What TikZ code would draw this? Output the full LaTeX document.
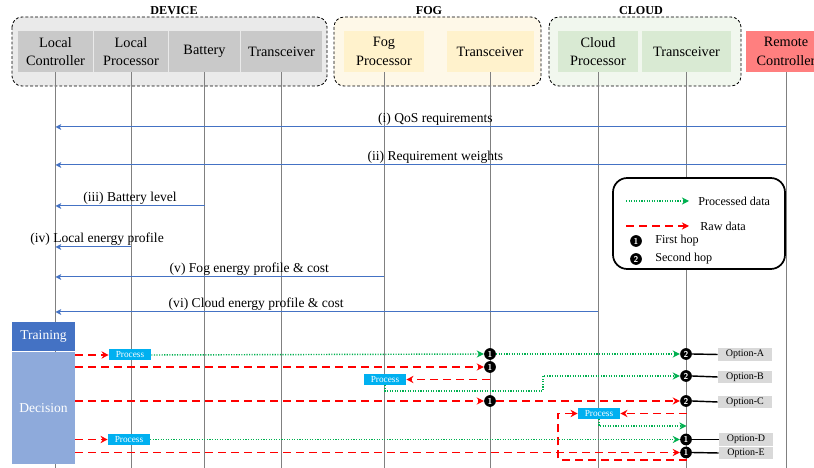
\documentclass[tikz,border=0pt]{standalone}
\usepackage{fontspec}
\setmainfont{Liberation Serif}
\usetikzlibrary{arrows.meta}
\definecolor{devfill}{HTML}{EAEAEA}
\definecolor{devbox}{HTML}{C9C9C9}
\definecolor{fogfill}{HTML}{FEF8E8}
\definecolor{fogbox}{HTML}{FFF2CC}
\definecolor{cldfill}{HTML}{F1F7EE}
\definecolor{cldbox}{HTML}{D9EAD3}
\definecolor{remfill}{HTML}{FF7F7F}
\definecolor{msgblue}{HTML}{4472C4}
\definecolor{trainfill}{HTML}{4472C4}
\definecolor{decfill}{HTML}{8EAADB}
\definecolor{procfill}{HTML}{00B0F0}
\definecolor{optfill}{HTML}{D9D9D9}
\definecolor{procgreen}{HTML}{00B050}
\begin{document}
\begin{tikzpicture}[x=0.7pt, y=-0.7pt]
\tikzstyle{group}   = [draw=black, dash pattern=on 2pt off 1.4pt, line width=0.6pt, rounded corners=7pt]
\tikzstyle{title}   = [inner sep=0pt, font=\fontsize{8.5}{10}\selectfont\bfseries]
\tikzstyle{entity}  = [rectangle, text centered, align=center, minimum height=28.7pt, inner sep=0pt, font=\fontsize{10}{13}\selectfont]
\tikzstyle{life}    = [draw=gray, line width=0.6pt]
\tikzstyle{msg}     = [-{Stealth[length=4pt, width=4pt, inset=1pt]}, draw=msgblue, line width=0.7pt]
\tikzstyle{msgtxt}  = [above=1pt, inner sep=0pt, font=\fontsize{9.5}{11}\selectfont]
\tikzstyle{raw}     = [-{Stealth[length=5pt, width=5pt, inset=1.6pt]}, draw=red, line width=1.3pt, dash pattern=on 5.6pt off 3.5pt]
\tikzstyle{proc}    = [-{Stealth[length=5pt, width=5pt, inset=1.6pt]}, draw=procgreen, line width=1pt, dash pattern=on 0.8pt off 1pt]
\tikzstyle{procbox} = [rectangle, fill=procfill, text=white, minimum width=29.4pt, minimum height=7.7pt, inner sep=0pt, font=\fontsize{6.5}{7}\selectfont]
\tikzstyle{hop}     = [circle, fill=black, text=white, minimum size=8.2pt, inner sep=0pt, font=\fontsize{6}{6}\selectfont\bfseries\sffamily]
\tikzstyle{optbox}  = [rectangle, fill=optfill, minimum width=37.8pt, minimum height=9pt, inner sep=0pt, font=\fontsize{7}{8}\selectfont]
\tikzstyle{optline} = [draw=black, line width=1pt]
\tikzstyle{phase}   = [rectangle, text=white, minimum width=44.1pt, inner sep=0pt, font=\fontsize{9.5}{11}\selectfont]
\tikzstyle{legtxt}  = [anchor=west, inner sep=0pt, font=\fontsize{8.5}{10}\selectfont]
\useasboundingbox (0,0) rectangle (814,468);
\clip (0,0) rectangle (814,468);
% groups and entities
\draw[group, fill=devfill] (12,17) rectangle (327,86);
\draw[group, fill=fogfill] (334,17) rectangle (541,86);
\draw[group, fill=cldfill] (549,17) rectangle (741,86);
\node[title] at (174,11) (dev_t) {DEVICE};
\node[title] at (429,11) (fog_t) {FOG};
\node[title] at (641,11) (cld_t) {CLOUD};
\node[entity, fill=devbox, minimum width=52.5pt] at (55.5,51.5) (dev_b_0) {Local\\Controller};
\node[entity, fill=devbox, minimum width=51.8pt] at (131,51.5) (dev_b_1) {Local\\Processor};
\node[entity, fill=devbox, minimum width=49.7pt] at (204.5,51.5) (dev_b_2) {Battery};
\node[entity, fill=devbox, minimum width=56.7pt] at (281.5,51.5) (dev_b_3) {Transceiver};
\node[entity, fill=fogbox, minimum width=56pt] at (384,51.5) (fog_b_0) {Fog\\Processor};
\node[entity, fill=fogbox, minimum width=60.9pt] at (490,51.5) (fog_b_1) {Transceiver};
\node[entity, fill=cldbox, minimum width=56pt] at (598,51.5) (cld_b_0) {Cloud\\Processor};
\node[entity, fill=cldbox, minimum width=62.3pt] at (686.5,51.5) (cld_b_1) {Transceiver};
\node[entity, fill=remfill, minimum width=56pt] at (786,51.5) (rem_b_0) {Remote\\Controller};
\coordinate (bottom) at (0,468);
\foreach \n in {dev_b_0, dev_b_1, dev_b_2, dev_b_3, fog_b_0, fog_b_1, cld_b_0, cld_b_1, rem_b_0}
  \draw[life] (\n.south) -- (\n.south |- bottom);
% messages to the local controller
\coordinate (m_0) at (0,127);
\coordinate (m_1) at (0,165);
\coordinate (m_2) at (0,206);
\coordinate (m_3) at (0,247);
\coordinate (m_4) at (0,277);
\coordinate (m_5) at (0,312);
\draw[msg] (rem_b_0 |- m_0) -- (dev_b_0 |- m_0) node[msgtxt, pos=0.48] (m_t_0) {(i) QoS requirements};
\draw[msg] (rem_b_0 |- m_1) -- (dev_b_0 |- m_1) node[msgtxt, pos=0.48] (m_t_1) {(ii) Requirement weights};
\draw[msg] (dev_b_2 |- m_2) -- (dev_b_0 |- m_2) node[msgtxt, pos=0.5] (m_t_2) {(iii) Battery level};
\draw[msg] (dev_b_1 |- m_3) -- (dev_b_0 |- m_3) node[msgtxt, pos=0.45] (m_t_3) {(iv) Local energy profile};
\draw[msg] (fog_b_0 |- m_4) -- (dev_b_0 |- m_4) node[msgtxt, pos=0.41] (m_t_4) {(v) Fog energy profile \& cost};
\draw[msg] (cld_b_0 |- m_5) -- (dev_b_0 |- m_5) node[msgtxt, pos=0.63] (m_t_5) {(vi) Cloud energy profile \& cost};
% legend
\node[draw=black, fill=white, line width=1.2pt, rounded corners=10pt, minimum width=120.4pt, minimum height=63.7pt] at (699,223.5) (leg) {};
\coordinate (leg_a_0) at (626,201);
\coordinate (leg_a_1) at (689,201);
\coordinate (leg_a_2) at (626,226);
\coordinate (leg_a_3) at (689,226);
\draw[proc] (leg_a_0) -- (leg_a_1);
\draw[raw, line width=1.1pt] (leg_a_2) -- (leg_a_3);
\node[legtxt] at (698,201) (leg_t_0) {Processed data};
\node[legtxt] at (700,226) (leg_t_1) {Raw data};
\node[hop] at (636,241) (leg_h_0) {1};
\node[legtxt] at (655,241) (leg_t_2) {First hop};
\node[hop] at (636,259) (leg_h_1) {2};
\node[legtxt] at (655,259) (leg_t_3) {Second hop};
% phases
\node[phase, fill=trainfill, minimum height=20.3pt] at (43.5,336.5) (train) {Training};
\node[phase, fill=decfill, minimum height=78.4pt] at (43.5,408) (dec) {Decision};
% processing, hops and options
\node[procbox] at (130,355) (pr_a) {Process};
\node[procbox] at (385,379.5) (pr_b) {Process};
\node[procbox] at (599,413.5) (pr_c) {Process};
\node[procbox] at (129,439.5) (pr_d) {Process};
\node[hop] at (490,354) (h_a_0) {1};
\node[hop] at (686,354) (h_a_1) {2};
\node[hop] at (490,367) (h_b_0) {1};
\node[hop] at (686,376) (h_b_1) {2};
\node[hop] at (490,401) (h_c_0) {1};
\node[hop] at (686,401) (h_c_1) {2};
\node[hop] at (686,439.5) (h_d_0) {1};
\node[hop] at (686,452.5) (h_e_0) {1};
\node[optbox] at (745,354.5) (opt_a) {Option-A};
\node[optbox] at (745,377) (opt_b) {Option-B};
\node[optbox] at (745,402) (opt_c) {Option-C};
\node[optbox] at (746,439.5) (opt_d) {Option-D};
\node[optbox] at (746,453) (opt_e) {Option-E};
\coordinate (b_0) at (543,391);
\coordinate (c_0) at (0,426);
\coordinate (e_0) at (0,460);
\coordinate (e_1) at (558,460);
\draw[raw] (dec.east |- pr_a) -- (pr_a.west);
\draw[proc] (pr_a.east) -- (h_a_0.west);
\draw[proc] (h_a_0.east) -- (h_a_1.west);
\draw[raw] (dec.east |- h_b_0) -- (h_b_0.west);
\draw[raw] (h_b_0 |- pr_b) -- (pr_b.east);
\draw[proc] (pr_b.south) |- (b_0) |- (h_b_1.west);
\draw[raw] (dec.east |- h_c_0) -- (h_c_0.west);
\draw[raw] (h_c_0.east) -- (h_c_1.west);
\draw[raw] (cld_b_1 |- pr_c) -- (pr_c.east);
\draw[proc] (pr_c.south) |- (cld_b_1 |- c_0);
\draw[raw] (cld_b_1 |- e_0) -- (e_1) |- (pr_c.west);
\draw[raw] (dec.east |- pr_d) -- (pr_d.west);
\draw[proc] (pr_d.east) -- (h_d_0.west);
\draw[raw] (dec.east |- h_e_0) -- (h_e_0.west);
\draw[optline] (h_a_1.east) -- (opt_a.west);
\draw[optline] (h_b_1.east) -- (opt_b.west);
\draw[optline] (h_c_1.east) -- (opt_c.west);
\draw[optline] (h_d_0.east) -- (opt_d.west);
\draw[optline] (h_e_0.east) -- (opt_e.west);
\end{tikzpicture}
\end{document}
